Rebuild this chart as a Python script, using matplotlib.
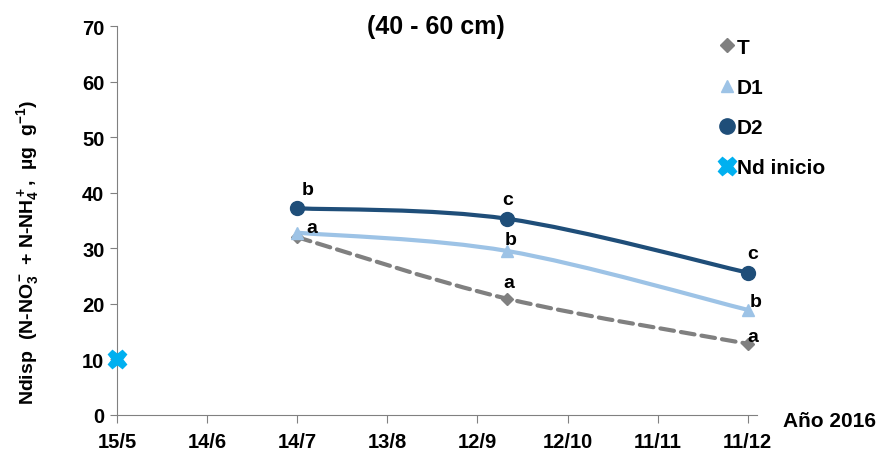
import datetime as dt
import matplotlib
matplotlib.use("Agg")
import matplotlib.pyplot as plt
import matplotlib.dates as mdates
from matplotlib.path import Path
from matplotlib.patches import PathPatch
from matplotlib.lines import Line2D

plt.rcParams["font.family"] = ["Liberation Sans", "DejaVu Sans"]
plt.rcParams["font.weight"] = "bold"
plt.rcParams["mathtext.fontset"] = "custom"
plt.rcParams["mathtext.rm"] = "Liberation Sans:bold"
plt.rcParams["mathtext.bf"] = "Liberation Sans:bold"
plt.rcParams["mathtext.it"] = "Liberation Sans:bold"
plt.rcParams["mathtext.default"] = "bf"

# --- data ---
dates = [dt.date(2016, 7, 14), dt.date(2016, 9, 22), dt.date(2016, 12, 11)]
t_vals = [32.0, 20.9, 12.8]
d1_vals = [32.8, 29.5, 18.9]
d2_vals = [37.2, 35.3, 25.6]
t_letters = ["", "a", "a"]
d1_letters = ["a", "b", "b"]
d2_letters = ["b", "c", "c"]
nd_date = dt.date(2016, 5, 15)
nd_val = 10.0

tick_dates = [dt.date(2016, 5, 15) + dt.timedelta(days=30 * i) for i in range(8)]
tick_labels = ["15/5", "14/6", "14/7", "13/8", "12/9", "12/10", "11/11", "11/12"]


def smooth_path(xs, ys):
    # Excel-like smoothed line: cubic Bezier segments through the points
    pts = list(zip(xs, ys))
    n = len(pts)
    verts = [pts[0]]
    codes = [Path.MOVETO]
    for i in range(n - 1):
        p0 = pts[max(i - 1, 0)]
        p1 = pts[i]
        p2 = pts[i + 1]
        p3 = pts[min(i + 2, n - 1)]
        c1 = (p1[0] + (p2[0] - p0[0]) / 6, p1[1] + (p2[1] - p0[1]) / 6)
        c2 = (p2[0] - (p3[0] - p1[0]) / 6, p2[1] - (p3[1] - p1[1]) / 6)
        verts += [c1, c2, p2]
        codes += [Path.CURVE4] * 3
    return Path(verts, codes)


fig = plt.figure(figsize=(8.79, 4.52), dpi=100)
ax = fig.add_axes([0.133, 0.080, 0.728, 0.860])

x = mdates.date2num(dates)
series = [
    (t_vals, "#808080", "D", 6, "T", t_letters, "--"),
    (d1_vals, "#9DC3E6", "^", 8, "D1", d1_letters, "-"),
    (d2_vals, "#1F4E79", "o", 10, "D2", d2_letters, "-"),
]
handles = []
for vals, col, mk, ms, lab, letters, ls in series:
    patch = PathPatch(smooth_path(x, vals), fill=False, edgecolor=col,
                      linewidth=3, capstyle="round")
    if ls == "--":
        patch.set_linestyle((0, (3.3, 1.7)))
    ax.add_patch(patch)
    ax.plot(x, vals, linestyle="none", marker=mk, markersize=ms, color=col,
            clip_on=False, zorder=3)
    handles.append(Line2D([], [], linestyle="none", marker=mk,
                          markersize=ms + 1, color=col, label=lab))

ax.plot(mdates.date2num([nd_date]), [nd_val], linestyle="none", marker="X",
        markersize=13, color="#00B0F0", clip_on=False, zorder=4)
handles.append(Line2D([], [], linestyle="none", marker="X", markersize=13,
                      color="#00B0F0", label="Nd inicio"))

# significance letters (pixel offsets from each point)
offsets = {
    "T": [(0, 0), (1, 8), (5, -1)],
    "D1": [(15, -3), (3, 3), (8, 0)],
    "D2": [(10, 10), (0, 11), (5, 11)],
}
for vals, col, mk, ms, lab, letters, ls in series:
    for xi, yi, let, off in zip(x, vals, letters, offsets[lab]):
        if let:
            ax.annotate(let, (xi, yi), xytext=off, textcoords="offset pixels",
                        ha="center", va="bottom", fontsize=14, fontweight="bold")

ax.set_xlim(mdates.date2num(dt.date(2016, 5, 15)), mdates.date2num(dt.date(2016, 12, 14)))
ax.set_ylim(0, 70)
ax.set_yticks(range(0, 71, 10))
ax.set_xticks(mdates.date2num(tick_dates))
ax.set_xticklabels(tick_labels)
ax.tick_params(axis="both", labelsize=14.5, direction="out", length=5,
               color="#808080", pad=4)
ax.tick_params(axis="x", length=6, pad=6)
for s in ["top", "right"]:
    ax.spines[s].set_visible(False)
for s in ["left", "bottom"]:
    ax.spines[s].set_color("#808080")

ax.set_ylabel("Ndisp  (N-NO$_3^-$ + N-NH$_4^+$,  µg  g$^{-1}$)",
              fontsize=14, fontweight="bold")
ax.yaxis.set_label_coords(-0.118, 0.42)
fig.text(0.496, 0.94, "(40 - 60 cm)", ha="center", va="center",
         fontsize=18, fontweight="bold")
fig.text(0.997, 0.068, "Año 2016", ha="right", va="center",
         fontsize=15, fontweight="bold")

ax.legend(handles=handles, loc="upper left", bbox_to_anchor=(0.7965, 0.956),
          bbox_transform=fig.transFigure, frameon=False,
          handlelength=0.8, handletextpad=0.05, labelspacing=1.02,
          prop={"weight": "bold", "size": 15})

fig.savefig("out.png", dpi=100)
